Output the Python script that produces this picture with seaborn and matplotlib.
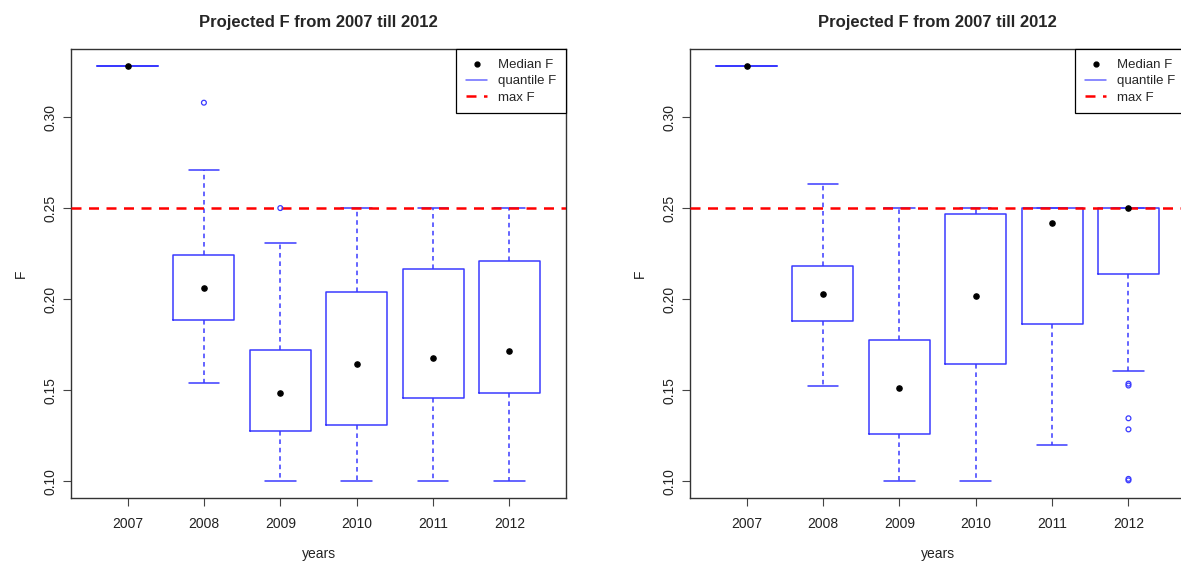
import numpy as np
import pandas as pd
import matplotlib
matplotlib.use("Agg")
import matplotlib.pyplot as plt
import seaborn as sns
from matplotlib.lines import Line2D


# ─────────────────────────────────────────────
#  DATA  (five-number summaries)
# ─────────────────────────────────────────────
years = ["2007", "2008", "2009", "2010", "2011", "2012"]

# left panel: lower whisker, Q1, median, Q3, upper whisker
left_lo  = [0.328, 0.1537, 0.100, 0.100, 0.100, 0.100]
left_q1  = [0.328, 0.1885, 0.1277, 0.1307, 0.1454, 0.1484]
left_med = [0.328, 0.2062, 0.1482, 0.1641, 0.1674, 0.1716]
left_q3  = [0.328, 0.2243, 0.1720, 0.2037, 0.2167, 0.2209]
left_hi  = [0.328, 0.2709, 0.2309, 0.250, 0.250, 0.250]
left_out_year = ["2008", "2009"]
left_out_val  = [0.3079, 0.250]

# right panel
right_lo  = [0.328, 0.1522, 0.100, 0.100, 0.1196, 0.1606]
right_q1  = [0.328, 0.1881, 0.1258, 0.1644, 0.1861, 0.2136]
right_med = [0.328, 0.2029, 0.1509, 0.2018, 0.2416, 0.250]
right_q3  = [0.328, 0.2181, 0.1776, 0.2469, 0.250, 0.250]
right_hi  = [0.328, 0.2634, 0.250, 0.250, 0.250, 0.250]
right_out_year = ["2012", "2012", "2012", "2012", "2012", "2012"]
right_out_val  = [0.1535, 0.1525, 0.1345, 0.1284, 0.1012, 0.1004]

max_f = 0.25
y_ticks = [0.10, 0.15, 0.20, 0.25, 0.30]


# ─────────────────────────────────────────────
#  STYLE
# ─────────────────────────────────────────────
sns.set_theme(style="white")
plt.rcParams["font.family"] = ["Liberation Sans", "DejaVu Sans"]
plt.rcParams["font.size"] = 10

fig = plt.figure(figsize=(11.81, 5.62), dpi=100)
ax_l = fig.add_axes([71 / 1181, 1 - 498 / 562, 495 / 1181, 449 / 562])
ax_r = fig.add_axes([690 / 1181, 1 - 498 / 562, 495 / 1181, 449 / 562])

BLUE = "#3a3aff"


def summary_frame(lo, q1, med, q3, hi):
    rows = []
    for i, yr in enumerate(years):
        for v in (lo[i], q1[i], med[i], q3[i], hi[i]):
            rows.append({"year": yr, "F": v})
    return pd.DataFrame(rows)


def draw_panel(ax, lo, q1, med, q3, hi, out_year, out_val):
    df = summary_frame(lo, q1, med, q3, hi)
    sns.boxplot(
        data=df, x="year", y="F", order=years, ax=ax,
        fill=False, color="blue", width=0.8, whis=np.inf,
        showfliers=False, linewidth=1.1,
        boxprops=dict(color=BLUE),
        whiskerprops=dict(linestyle=(0, (3, 2.5)), color=BLUE),
        capprops=dict(color=BLUE),
        medianprops=dict(visible=False),
    )
    # outliers as open circles
    pos = {yr: i for i, yr in enumerate(years)}
    ax.scatter([pos[y] for y in out_year], out_val, s=12,
               facecolors="none", edgecolors=BLUE, linewidths=0.9,
               zorder=4)
    # median points
    ax.scatter(range(len(years)), med, s=14, color="black", zorder=5)
    # max F reference
    ax.axhline(max_f, color="red", linestyle=(0, (4, 3)), linewidth=1.8,
               zorder=3)

    ax.set_xlim(-0.74, 5.74)
    ax.set_ylim(0.0907, 0.3374)
    ax.set_yticks(y_ticks)
    ax.set_yticklabels([f"{t:.2f}" for t in y_ticks], rotation=90,
                       va="center")
    ax.tick_params(axis="both", direction="out", length=6, width=0.8,
                   color="#444444", labelcolor="#222222", labelsize=10,
                   bottom=True, left=True)
    ax.tick_params(axis="x", pad=8)
    ax.tick_params(axis="y", pad=4)
    for sp in ax.spines.values():
        sp.set_visible(True)
        sp.set_color("#333333")
        sp.set_linewidth(1)

    ax.set_title("Projected F from 2007 till 2012", fontsize=12,
                 fontweight="bold", pad=16)
    ax.set_xlabel("years", fontsize=10, labelpad=11, color="#222222")
    ax.set_ylabel("F", fontsize=10, labelpad=11, color="#222222")

    handles = [
        Line2D([], [], color="black", marker="o", markersize=3.5,
               linestyle="none"),
        Line2D([], [], color="#6a6aff", linewidth=1.1),
        Line2D([], [], color="red", linestyle=(0, (4, 3)), linewidth=1.8),
    ]
    leg = ax.legend(handles, ["Median F", "quantile F", "max F"],
                    loc="upper right", borderaxespad=0, fancybox=False,
                    framealpha=1, edgecolor="black", fontsize=9.5,
                    handlelength=1.6, labelspacing=0.3, borderpad=0.75,
                    handletextpad=0.8)
    leg.get_frame().set_linewidth(0.9)


draw_panel(ax_l, left_lo, left_q1, left_med, left_q3, left_hi,
           left_out_year, left_out_val)
draw_panel(ax_r, right_lo, right_q1, right_med, right_q3, right_hi,
           right_out_year, right_out_val)

fig.savefig("out.png", dpi=100)
